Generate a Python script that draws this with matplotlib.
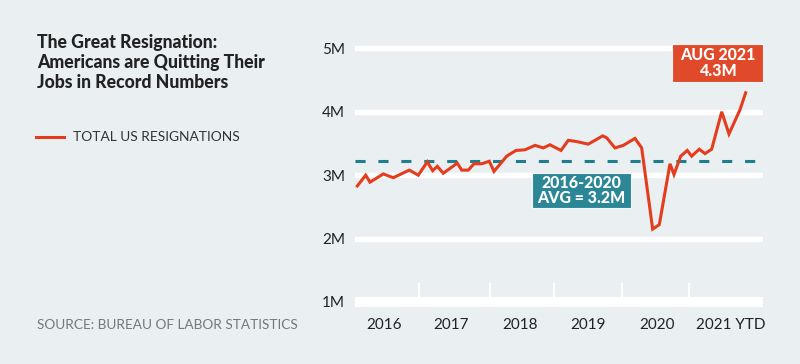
import matplotlib.pyplot as plt
from matplotlib.patches import Rectangle

# x = month index (0 ~ Jan 2016), y = resignations in millions
months = [0.0, 1.47, 2.22, 4.55, 6.29, 9.09, 10.66, 12.24, 13.18, 13.99, 15.03,
          17.48, 18.25, 19.41, 20.40, 21.75, 23.08, 23.90, 26.12, 27.74, 29.32,
          31.07, 32.52, 33.69, 35.61, 36.89, 38.36, 40.38, 41.56, 42.90, 43.60,
          45.05, 46.50, 48.55, 49.72, 51.64, 52.80, 54.67, 55.37, 56.54, 57.69,
          58.46, 59.79, 60.79, 61.96, 63.71, 64.98, 66.90, 67.90]
quits = [2.83, 3.00, 2.89, 3.02, 2.96, 3.08, 3.00, 3.21, 3.07, 3.14, 3.03,
         3.19, 3.08, 3.08, 3.18, 3.18, 3.22, 3.06, 3.30, 3.39, 3.40,
         3.47, 3.43, 3.48, 3.39, 3.55, 3.53, 3.49, 3.55, 3.62, 3.59,
         3.43, 3.47, 3.58, 3.43, 2.15, 2.22, 3.18, 3.01, 3.30, 3.39,
         3.30, 3.41, 3.34, 3.41, 4.00, 3.65, 4.03, 4.30]
avg = 3.23
yticks = [1, 2, 3, 4, 5]
ytick_labels = ['1M', '2M', '3M', '4M', '5M']
year_pos = [4.7, 16.4, 28.4, 40.3, 52.4, 65.3]
year_labels = ['2016', '2017', '2018', '2019', '2020', '2021 YTD']
year_breaks = [10.8, 23.2, 34.4, 46.3, 58.0]

bg = '#eaeff2'
red = '#e43d1e'
teal = '#1f7d8c'
dark = '#222222'

plt.rcParams['font.family'] = ['Lato', 'DejaVu Sans']

fig = plt.figure(figsize=(8, 3.64), dpi=100, facecolor=bg)
W, H = 800, 364
ax = fig.add_axes([355 / W, 1 - 312 / H, 408 / W, 282 / H])
ax.set_facecolor(bg)
ax.set_xlim(-0.40, 70.93)
ax.set_ylim(0.842, 5.29)

# gridlines
for v in yticks:
    ax.axhline(v, color='white', lw=7.2 if v == 1 else 3.8, zorder=1)
ax.vlines(year_breaks, 1.08, 1.30, color='white', lw=1.6, zorder=1)

ax.axhline(avg, color=teal, lw=2.2, linestyle=(0, (3.3, 4.2)), zorder=2)
ax.plot(months, quits, color=red, lw=2.2, zorder=3, solid_joinstyle='miter')

for s in ax.spines.values():
    s.set_visible(False)
ax.set_yticks(yticks)
ax.set_yticklabels(ytick_labels, fontsize=11, color=dark)
ax.set_xticks(year_pos)
ax.set_xticklabels(year_labels, fontsize=11, color=dark)
ax.tick_params(length=0)
ax.tick_params(axis='y', pad=7)
ax.tick_params(axis='x', pad=4)

# annotation boxes
def box(x0, y0, x1, y1, color, lines):
    r = Rectangle((x0 / W, 1 - y1 / H), (x1 - x0) / W, (y1 - y0) / H,
                  transform=fig.transFigure, facecolor=color,
                  edgecolor='#f4f4f4', lw=0.8, zorder=5)
    fig.add_artist(r)
    fig.text((x0 + x1) / 2 / W, 1 - (y0 + y1) / 2 / H, lines, ha='center',
             va='center', color='white', fontsize=11.5, fontweight='black',
             linespacing=0.98, zorder=6)

box(672, 44, 763, 82, '#e04a2a', 'AUG 2021\n4.3M')
box(532, 173, 631, 208, '#2b8795', '2016-2020\nAVG = 3.2M')

# title, legend, source
fig.text(37 / W, 1 - 34 / H, 'The Great Resignation:\nAmericans are Quitting Their\nJobs in Record Numbers',
         ha='left', va='top', fontsize=12.7, fontweight='black', color=dark,
         linespacing=1.2)
fig.add_artist(plt.Line2D([36 / W, 64 / W], [1 - 137 / H, 1 - 137 / H],
                          transform=fig.transFigure, color=red, lw=2.2))
fig.text(73 / W, 1 - 137 / H, 'TOTAL US RESIGNATIONS', ha='left', va='center',
         fontsize=9.9, color='#333333')
fig.text(37 / W, 1 - 325 / H, 'SOURCE: BUREAU OF LABOR STATISTICS', ha='left',
         va='center', fontsize=9.8, color='#777777')

fig.savefig('out.png', dpi=100, facecolor=bg)
